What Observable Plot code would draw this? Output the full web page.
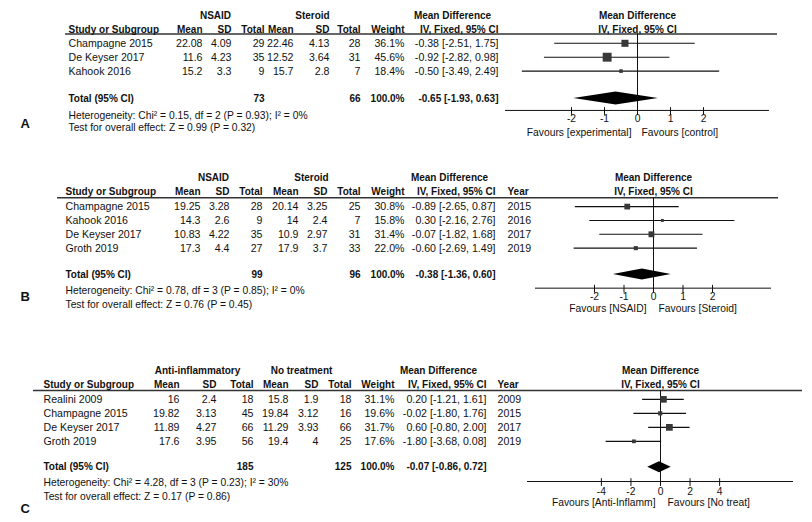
<!DOCTYPE html>
<html><head><meta charset="utf-8">
<script src="https://cdn.jsdelivr.net/npm/d3@7"></script>
<script src="https://cdn.jsdelivr.net/npm/@observablehq/plot@0.6"></script>
<style>
body{margin:0;background:#fff;}
#chart{position:relative;width:812px;height:522px;background:#fff;}
#chart svg{display:block;}
</style></head><body><div id="chart"></div>
<script>
// ---------- Panel A data ----------
const studiesA = ["Champagne 2015", "De Keyser 2017", "Kahook 2016"];
const expMeanA = [22.08, 11.6, 15.2];
const expSDA = [4.09, 4.23, 3.3];
const expNA = [29, 35, 9];
const ctlMeanA = [22.46, 12.52, 15.7];
const ctlSDA = [4.13, 3.64, 2.8];
const ctlNA = [28, 31, 7];
const weightA = [36.1, 45.6, 18.4];
const mdA = [-0.38, -0.92, -0.50];
const loA = [-2.51, -2.82, -3.49];
const hiA = [1.75, 0.98, 2.49];
const totalA = {md: -0.65, lo: -1.93, hi: 0.63, expN: 73, ctlN: 66};
const groupsA = ["NSAID", "Steroid", "Mean Difference"];
const headsA = ["Study or Subgroup", "Mean", "SD", "Total", "Mean", "SD", "Total", "Weight", "IV, Fixed, 95% CI"];
const hetA = "Heterogeneity: Chi² = 0.15, df = 2 (P = 0.93); I² = 0%";
const testA = "Test for overall effect: Z = 0.99 (P = 0.32)";
const ticksA = [-2, -1, 0, 1, 2];
const favoursA = ["Favours [experimental]", "Favours [control]"];

// ---------- Panel B data ----------
const studiesB = ["Champagne 2015", "Kahook 2016", "De Keyser 2017", "Groth 2019"];
const expMeanB = [19.25, 14.3, 10.83, 17.3];
const expSDB = [3.28, 2.6, 4.22, 4.4];
const expNB = [28, 9, 35, 27];
const ctlMeanB = [20.14, 14, 10.9, 17.9];
const ctlSDB = [3.25, 2.4, 2.97, 3.7];
const ctlNB = [25, 7, 31, 33];
const weightB = [30.8, 15.8, 31.4, 22.0];
const mdB = [-0.89, 0.30, -0.07, -0.60];
const loB = [-2.65, -2.16, -1.82, -2.69];
const hiB = [0.87, 2.76, 1.68, 1.49];
const yearsB = [2015, 2016, 2017, 2019];
const totalB = {md: -0.38, lo: -1.36, hi: 0.60, expN: 99, ctlN: 96};
const groupsB = ["NSAID", "Steroid", "Mean Difference"];
const headsB = ["Study or Subgroup", "Mean", "SD", "Total", "Mean", "SD", "Total", "Weight", "IV, Fixed, 95% CI", "Year"];
const hetB = "Heterogeneity: Chi² = 0.78, df = 3 (P = 0.85); I² = 0%";
const testB = "Test for overall effect: Z = 0.76 (P = 0.45)";
const ticksB = [-2, -1, 0, 1, 2];
const favoursB = ["Favours [NSAID]", "Favours [Steroid]"];

// ---------- Panel C data ----------
const studiesC = ["Realini 2009", "Champagne 2015", "De Keyser 2017", "Groth 2019"];
const expMeanC = [16, 19.82, 11.89, 17.6];
const expSDC = [2.4, 3.13, 4.27, 3.95];
const expNC = [18, 45, 66, 56];
const ctlMeanC = [15.8, 19.84, 11.29, 19.4];
const ctlSDC = [1.9, 3.12, 3.93, 4];
const ctlNC = [18, 16, 66, 25];
const weightC = [31.1, 19.6, 31.7, 17.6];
const mdC = [0.20, -0.02, 0.60, -1.80];
const loC = [-1.21, -1.80, -0.80, -3.68];
const hiC = [1.61, 1.76, 2.00, 0.08];
const yearsC = [2009, 2015, 2017, 2019];
const totalC = {md: -0.07, lo: -0.86, hi: 0.72, expN: 185, ctlN: 125};
const groupsC = ["Anti-inflammatory", "No treatment", "Mean Difference"];
const headsC = ["Study or Subgroup", "Mean", "SD", "Total", "Mean", "SD", "Total", "Weight", "IV, Fixed, 95% CI", "Year"];
const hetC = "Heterogeneity: Chi² = 4.28, df = 3 (P = 0.23); I² = 30%";
const testC = "Test for overall effect: Z = 0.17 (P = 0.86)";
const ticksC = [-4, -2, 0, 2, 4];
const favoursC = ["Favours [Anti-Inflamm]", "Favours [No treat]"];

// ---------- rendering ----------
const FONT = '"Liberation Sans", Arial, Helvetica, sans-serif';
const INK = "#111";
const KEYS = ["study", "em", "es", "en", "cm", "cs", "cn", "w", "ci", "year"];

function panel(cfg) {
  const L = cfg.layout, R = cfg.rows;
  const mL = L.lineX[0], mR = 812 - L.lineX[1];
  const rel = x => x - mL;
  const f2 = v => v.toFixed(2);
  const ciText = (m, a, b) => `${f2(m)} [${f2(a)}, ${f2(b)}]`;
  const studies = cfg.studies.map((s, i) => ({
    row: R.first + i,
    study: s,
    em: String(cfg.expMean[i]), es: String(cfg.expSD[i]), en: String(cfg.expN[i]),
    cm: String(cfg.ctlMean[i]), cs: String(cfg.ctlSD[i]), cn: String(cfg.ctlN[i]),
    w: cfg.weight[i].toFixed(1) + "%",
    ci: ciText(cfg.md[i], cfg.lo[i], cfg.hi[i]),
    year: cfg.years ? String(cfg.years[i]) : "",
    md: cfg.md[i], lo: cfg.lo[i], hi: cfg.hi[i], weight: cfg.weight[i]
  }));
  const T = cfg.total;
  const total = [{row: R.total, study: "Total (95% CI)", en: String(T.expN), cn: String(T.ctlN),
    w: "100.0%", ci: ciText(T.md, T.lo, T.hi)}];
  const txt = (data, opts, size, weight) => Plot.text(data, {
    fontFamily: FONT, fontSize: size, fontWeight: weight || "normal", fill: INK, ...opts});
  const c = (v) => () => v;
  const marks = [];
  // header underline
  marks.push(Plot.ruleY([R.line], {y: d => d, stroke: "#333", strokeWidth: 1.5}));
  // group headings
  cfg.groups.forEach((g, k) => marks.push(txt([g], {y: c(R.grp), text: d => d, frameAnchor: "left",
    dx: rel(L.groupX[k]), textAnchor: "middle"}, 10, "bold")));
  // column headings
  cfg.heads.forEach((h, k) => marks.push(txt([h], {y: c(R.hdr), text: d => d, frameAnchor: "left",
    dx: rel(L.colX[k]), textAnchor: L.colA[k]}, 10, "bold")));
  // study cells
  cfg.heads.forEach((h, k) => marks.push(txt(studies, {y: "row", text: KEYS[k], frameAnchor: "left",
    dx: rel(L.colX[k]), textAnchor: L.colA[k]}, 10.6)));
  // total cells
  cfg.heads.forEach((h, k) => { if (KEYS[k] in total[0]) marks.push(txt(total, {y: "row", text: KEYS[k],
    frameAnchor: "left", dx: rel(L.colX[k]), textAnchor: L.colA[k]}, 10, "bold")); });
  // footnotes
  marks.push(txt([cfg.het], {y: c(R.het), text: d => d, frameAnchor: "left", dx: rel(L.colX[0]), textAnchor: "start"}, 10.3));
  marks.push(txt([cfg.test], {y: c(R.test), text: d => d, frameAnchor: "left", dx: rel(L.colX[0]), textAnchor: "start"}, 10.3));
  // panel letter
  marks.push(txt([cfg.letter], {y: c(R.label), text: d => d, frameAnchor: "left", dx: rel(L.letterX), textAnchor: "start"}, 13, "bold"));
  // forest plot headings
  marks.push(txt(["Mean Difference"], {x: c(0), y: c(R.grp), text: d => d}, 10, "bold"));
  marks.push(txt(["IV, Fixed, 95% CI"], {x: c(0), y: c(R.hdr), text: d => d}, 10, "bold"));
  // zero line
  marks.push(Plot.ruleX([0], {x: d => d, y1: c(R.line), y2: c(R.axis), stroke: INK, strokeWidth: 1}));
  // CI lines
  marks.push(Plot.ruleY(studies, {y: "row", x1: "lo", x2: "hi", stroke: INK, strokeWidth: 1.1}));
  // weight squares
  marks.push(Plot.dot(studies, {x: "md", y: "row", r: "weight", symbol: "square", fill: "#383838", stroke: null}));
  // pooled diamond
  const h = L.diamondH;
  const dia = [
    {x: T.lo, y1: R.total, y2: R.total},
    {x: T.md, y1: R.total - h, y2: R.total + h},
    {x: T.hi, y1: R.total, y2: R.total}
  ];
  marks.push(Plot.areaY(dia, {x: "x", y1: "y1", y2: "y2", fill: "#000"}));
  // axis
  marks.push(Plot.ruleY([R.axis], {y: d => d, x1: c(cfg.domain[0]), x2: c(cfg.domain[1]), stroke: INK, strokeWidth: 1}));
  marks.push(Plot.ruleX(cfg.ticks, {x: d => d, y1: c(R.axis - 0.2), y2: c(R.axis + 0.35), stroke: INK, strokeWidth: 1}));
  marks.push(txt(cfg.ticks, {x: d => d, y: c(R.tick), text: d => String(d)}, 10.3));
  marks.push(txt([cfg.favours[0]], {x: c(0), y: c(R.fav), text: d => d, textAnchor: "end", dx: L.favDx[0]}, 10.3));
  marks.push(txt([cfg.favours[1]], {x: c(0), y: c(R.fav), text: d => d, textAnchor: "start", dx: L.favDx[1]}, 10.3));

  return Plot.plot({
    width: 812, height: cfg.height,
    marginLeft: mL, marginRight: mR, marginTop: 0, marginBottom: 0,
    x: {domain: cfg.domain, range: L.xRange, axis: null},
    y: {domain: [0, 1], range: [L.y0, L.y0 + L.rowH], axis: null},
    r: {type: "linear", domain: [0, 100], range: [0, L.rMax]},
    style: {background: "transparent", overflow: "visible"},
    marks
  });
}

const chart = document.getElementById("chart");

chart.appendChild(panel({
  letter: "A", height: 140,
  studies: studiesA, expMean: expMeanA, expSD: expSDA, expN: expNA,
  ctlMean: ctlMeanA, ctlSD: ctlSDA, ctlN: ctlNA, weight: weightA,
  md: mdA, lo: loA, hi: hiA, years: null, total: totalA,
  groups: groupsA, heads: headsA, het: hetA, test: testA, ticks: ticksA, favours: favoursA,
  domain: [-4, 4],
  layout: {
    lineX: [65, 777], xRange: [505, 769], y0: 15, rowH: 13.9, rMax: 11, diamondH: 0.47,
    groupX: [215, 312, 452],
    colX: [68, 202, 231, 264, 293, 329, 360, 404, 498],
    colA: ["start", "end", "end", "end", "end", "end", "end", "end", "end"],
    letterX: 20, favDx: [-6, 4]
  },
  rows: {grp: 0, hdr: 1, line: 1.33, first: 2, total: 5.97, het: 7.19, test: 8.06,
    axis: 6.83, tick: 7.43, fav: 8.42, label: 7.77}
}));

chart.appendChild(panel({
  letter: "B", height: 175,
  studies: studiesB, expMean: expMeanB, expSD: expSDB, expN: expNB,
  ctlMean: ctlMeanB, ctlSD: ctlSDB, ctlN: ctlNB, weight: weightB,
  md: mdB, lo: loB, hi: hiB, years: yearsB, total: totalB,
  groups: groupsB, heads: headsB, het: hetB, test: testB, ticks: ticksB, favours: favoursB,
  domain: [-4, 4],
  layout: {
    lineX: [57, 778], xRange: [535, 771], y0: 37, rowH: 13.85, rMax: 10.5, diamondH: 0.4,
    groupX: [213, 311, 449],
    colX: [65, 200, 229, 262, 298, 327, 360, 404, 495, 507],
    colA: ["start", "end", "end", "end", "end", "end", "end", "end", "end", "start"],
    letterX: 20, favDx: [-7, 5]
  },
  rows: {grp: 0, hdr: 1, line: 1.47, first: 2.1, total: 7.0, het: 8.16, test: 9.17,
    axis: 7.99, tick: 8.59, fav: 9.46, label: 8.59}
}));

chart.appendChild(panel({
  letter: "C", height: 207,
  studies: studiesC, expMean: expMeanC, expSD: expSDC, expN: expNC,
  ctlMean: ctlMeanC, ctlSD: ctlSDC, ctlN: ctlNC, weight: weightC,
  md: mdC, lo: loC, hi: hiC, years: yearsC, total: totalC,
  groups: groupsC, heads: headsC, het: hetC, test: testC, ticks: ticksC, favours: favoursC,
  domain: [-9, 9],
  layout: {
    lineX: [33, 802], xRange: [527, 793], y0: 55, rowH: 14, rMax: 12, diamondH: 0.4,
    groupX: [197, 301, 438],
    colX: [43, 179, 216, 253, 288, 318, 351, 394, 486, 497],
    colA: ["start", "end", "end", "end", "end", "end", "end", "end", "end", "start"],
    letterX: 20, favDx: [-5, 7]
  },
  rows: {grp: 0, hdr: 1, line: 1.43, first: 2.06, total: 6.91, het: 8.05, test: 9.05,
    axis: 7.93, tick: 8.64, fav: 9.43, label: 9.86}
}));
</script>
</body></html>
